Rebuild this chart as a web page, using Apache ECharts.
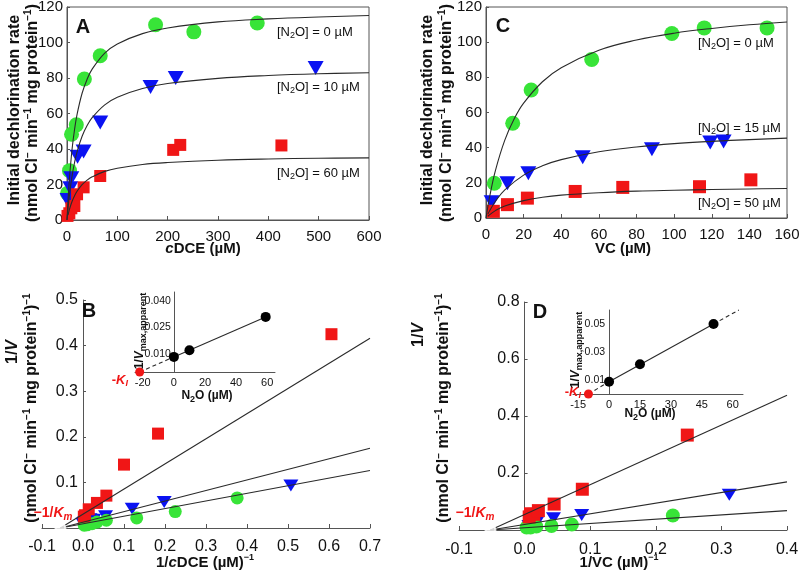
<!DOCTYPE html>
<html>
<head>
<meta charset="utf-8">
<script src="https://cdn.jsdelivr.net/npm/echarts@6/dist/echarts.min.js"></script>
<style>html,body{margin:0;padding:0;background:#fff}#c{width:800px;height:574px}</style>
</head>
<body>
<div id="c"></div>
<script>
// ---------- Panel A: cDCE (µM) vs rate ----------
const A_green = [[1,15],[5,27.8],[9,48.3],[18.5,53.6],[34.5,79.4],[66,92.5],[176,110],[252,106],[378,111]];
const A_blue  = [[1,11.3],[6.6,17.9],[8.6,23.5],[21,35.7],[33,38.6],[66,55],[166,75],[216,80],[494,85.6]];
const A_red   = [[1,2.3],[4.6,3.8],[8.6,6.6],[14.6,7.9],[20,14.5],[33,18.4],[66,24.8],[211,39.5],[225,42.3],[426,42]];
const A_fit0  = [[0,0],[2,10.8],[5,23.8],[10,39.7],[15,51],[20,59.5],[30,71.4],[40,79.3],[50,85],[75,94],[100,99.2],[150,105],[200,108.2],[300,111.6],[400,113.3],[500,114.4],[600,115.2]];
const A_fit10 = [[0,0],[2,6.4],[5,14.4],[10,24.7],[15,32.4],[20,38.4],[30,47.2],[40,53.2],[50,57.7],[75,64.9],[100,69.2],[150,74.1],[200,76.9],[300,79.8],[400,81.4],[500,82.4],[600,83]];
const A_fit60 = [[2,2.7],[5,6.1],[10,10.4],[15,13.7],[20,16.2],[30,19.9],[40,22.5],[50,24.3],[75,27.4],[100,29.2],[150,31.3],[200,32.4],[300,33.7],[400,34.4],[500,34.8],[600,35]];
const A_labels = ['[N{sub|2}O] = 0 µM','[N{sub|2}O] = 10 µM','[N{sub|2}O] = 60 µM'];

// ---------- Panel C: VC (µM) vs rate ----------
const C_green = [[4.4,19.8],[14.2,53.9],[24,72.8],[56.2,90.2],[98.8,104.9],[116,108.1],[149.4,108.1]];
const C_blue  = [[3,8.9],[11.4,19.8],[22.5,25.5],[51.4,34.6],[88.2,39.1],[119.2,42.9],[126.3,43.5]];
const C_red   = [[3.9,3.8],[11.4,7.6],[22,11.3],[47.4,15.1],[72.7,17.4],[113.5,17.8],[140.8,21.7]];
const C_fit0  = [[0,0],[2,12.4],[5,27],[10,44.3],[15,56.4],[20,65.3],[30,77.5],[40,85.5],[60,95.4],[80,101.2],[100,105.1],[120,107.8],[140,109.9],[160,111.5]];
const C_fit15 = [[1,2.2],[2,4.3],[5,9.5],[10,16],[20,24.4],[30,29.7],[40,33.2],[60,37.7],[80,40.4],[100,42.3],[120,43.6],[140,44.6],[160,45.4]];
const C_fit50 = [[1,1],[2,1.9],[5,4.2],[10,6.8],[20,9.9],[30,11.8],[40,13],[60,14.4],[80,15.3],[100,15.8],[120,16.2],[140,16.5],[160,16.8]];
const C_labels = ['[N{sub|2}O] = 0 µM','[N{sub|2}O] = 15 µM','[N{sub|2}O] = 50 µM'];

// ---------- Panel B: 1/cDCE vs 1/V ----------
const B_red   = [[0.002,0.025],[0.005,0.028],[0.014,0.041],[0.034,0.055],[0.057,0.071],[0.1,0.139],[0.183,0.207],[0.606,0.425]];
const B_blue  = [[0.0,0.0095],[0.004,0.012],[0.017,0.019],[0.026,0.018],[0.055,0.026],[0.12,0.042],[0.198,0.057],[0.507,0.093]];
const B_green = [[0.003,0.006],[0.01,0.007],[0.022,0.0095],[0.034,0.013],[0.057,0.017],[0.131,0.022],[0.225,0.036],[0.376,0.066]];
const B_line0  = [[-0.055,0],[0.7,0.126]];
const B_line10 = [[-0.055,0],[0.7,0.175]];
const B_line60 = [[-0.055,0],[0.7,0.416]];
const B_km = [[-0.055,0]];
// inset B
const Bi_pts = [[0,0.0085],[10,0.0122],[59,0.031]];
const Bi_ki  = [[-22,0]];
const Bi_dash = [[-22,0],[0,0.0085]];
const Bi_solid = [[0,0.0085],[59,0.031]];

// ---------- Panel D: 1/VC vs 1/V ----------
const D_red   = [[0.007,0.046],[0.009,0.057],[0.014,0.055],[0.021,0.068],[0.045,0.091],[0.088,0.143],[0.248,0.333]];
const D_blue  = [[0.0066,0.014],[0.01,0.021],[0.019,0.029],[0.044,0.041],[0.087,0.053],[0.312,0.124]];
const D_green = [[0.003,0.009],[0.009,0.009],[0.018,0.012],[0.041,0.014],[0.072,0.019],[0.226,0.051]];
const D_line0  = [[-0.052,0],[0.4,0.068]];
const D_line15 = [[-0.052,0],[0.4,0.169]];
const D_line50 = [[-0.052,0],[0.4,0.473]];
const D_km = [[-0.052,0]];
// inset D
const Di_pts = [[0,0.0088],[15,0.0212],[50.7,0.05]];
const Di_ki  = [[-10,0]];
const Di_dash1 = [[-10,0],[0,0.0088]];
const Di_solid = [[0,0.0088],[50.7,0.05]];
const Di_dash2 = [[50.7,0.05],[63,0.06]];

const FONT = '"Liberation Sans", Arial, Helvetica, sans-serif';
const GREEN = '#38e438', BLUE = '#0a12f2', RED = '#f01616', AX = '#555', TXT = '#111', LINE = '#2a2a2a';

const chart = echarts.init(document.getElementById('c'), null, {renderer:'canvas'});

// grid geometry (pixels)
const G = [
  {left: 67, top: 7, width: 302, height: 213},
  {left: 486, top: 7, width: 301, height: 211},
  {left: 42, top: 300, width: 328, height: 228},
  {left: 459, top: 302, width: 328, height: 228},
  {left: 135, top: 292, width: 140, height: 80},
  {left: 573, top: 310, width: 170, height: 84}
];
const XR = [[0,600],[0,160],[-0.1,0.7],[-0.1,0.4],[-25,65],[-17.5,65]];
// shift y axis to x = 0 (labels follow)
function zeroOffset(g) { const r = XR[g]; return -(0 - r[0]) / (r[1] - r[0]) * G[g].width; }

function xAx(g, interval, fs, margin, fmt, extra) {
  return Object.assign({
    gridIndex: g, type: 'value', min: XR[g][0], max: XR[g][1], interval,
    axisLine: {show: true, onZero: false, lineStyle: {color: AX, width: 1}},
    axisTick: {show: true, inside: true, length: 4, lineStyle: {color: AX}},
    axisLabel: {fontSize: fs, color: TXT, fontFamily: FONT, margin, formatter: fmt, showMinLabel: true, showMaxLabel: true},
    splitLine: {show: false}
  }, extra || {});
}
function yAx(g, min, max, interval, fs, margin, fmt, extra) {
  return Object.assign({
    gridIndex: g, type: 'value', min, max, interval, offset: zeroOffset(g),
    axisLine: {show: true, onZero: false, lineStyle: {color: AX, width: 1}},
    axisTick: {show: true, inside: true, length: 3, lineStyle: {color: AX}},
    axisLabel: {fontSize: fs, color: TXT, fontFamily: FONT, margin, formatter: fmt, showMinLabel: true, showMaxLabel: true},
    splitLine: {show: false}
  }, extra || {});
}
function sc(g, data, symbol, size, color, rot, z) {
  return {type: 'scatter', xAxisIndex: g, yAxisIndex: g, data, symbol, symbolSize: size,
    symbolRotate: rot || 0, itemStyle: {color, opacity: 1}, silent: true, z: z || 3, clip: false};
}
function ln(g, data, dashed, smooth) {
  return {type: 'line', xAxisIndex: g, yAxisIndex: g, data, symbol: 'none', smooth: smooth ? 0.4 : false,
    lineStyle: {color: LINE, width: 1.1, type: dashed ? [4,3] : 'solid'}, silent: true, z: 4, clip: false};
}
function txt(x, y, text, opt) {
  opt = opt || {};
  return {type: 'text', x, y, rotation: opt.rot || 0, silent: true, z: 100,
    style: {text, fill: opt.color || TXT, fontSize: opt.fs || 13, fontWeight: opt.fw || 'normal',
      fontFamily: FONT, fontStyle: opt.style || 'normal', align: opt.align || 'center', verticalAlign: 'middle',
      rich: opt.rich || {}}};
}
function supRich(fs, fw) {
  return {
    s: {fontSize: Math.round(fs*0.62), fontWeight: fw, fontFamily: FONT, verticalAlign: 'top', lineHeight: fs+4, fill: TXT},
    i: {fontSize: fs, fontWeight: fw, fontFamily: FONT, fontStyle: 'italic', lineHeight: fs+4, fill: TXT},
    sub: {fontSize: Math.round(fs*0.72), fontWeight: fw, fontFamily: FONT, verticalAlign: 'bottom', lineHeight: fs+4, fill: TXT}
  };
}
function redRich(fs) {
  return {
    k: {fontSize: fs, fontWeight: 'bold', fontStyle: 'italic', fill: RED, fontFamily: FONT, lineHeight: fs+4},
    m: {fontSize: Math.round(fs*0.7), fontWeight: 'bold', fontStyle: 'italic', fill: RED, fontFamily: FONT, verticalAlign: 'bottom', lineHeight: fs+4}
  };
}
const r16 = supRich(16, 'bold'), r15 = supRich(15, 'bold'), r12 = supRich(12, 'bold');
const annRich = {sub: {fontSize: 9, fontFamily: FONT, verticalAlign: 'bottom', lineHeight: 17, fill: TXT}};

const f1 = v => v.toFixed(1);
const f1nz = v => Math.abs(v) < 1e-9 ? '' : v.toFixed(1);

const option = {
  animation: false,
  backgroundColor: '#fff',
  textStyle: {fontFamily: FONT},
  grid: G.map((g, i) => Object.assign({}, g, {outerBoundsMode: 'none'},
    i < 2 ? {show: true, borderColor: AX, borderWidth: 1} : {show: false})),
  xAxis: [
    xAx(0, 100, 15, 9),
    xAx(1, 20, 15, 9),
    xAx(2, 0.1, 16, 11, f1),
    xAx(3, 0.1, 16, 12, f1),
    xAx(4, 5, 11, 5, v => { const r = Math.round(v); return r % 20 === 0 ? String(r) : ''; }, {axisTick: {show: false}}),
    xAx(5, 2.5, 11, 5, v => { const r = Math.round(v*10)/10; return (Math.abs(r % 15) < 1e-6) ? String(r) : ''; }, {axisTick: {show: false}})
  ],
  yAxis: [
    yAx(0, 0, 120, 20, 15, 4),
    yAx(1, 0, 120, 20, 15, 4),
    yAx(2, 0, 0.5, 0.1, 16, 5, f1nz),
    yAx(3, 0, 0.8, 0.2, 16, 5, f1nz),
    yAx(4, 0, 0.045, 0.005, 10.5, 3, v => { const r = Math.round(v*1000); return [10,25,40].includes(r) ? v.toFixed(3) : ''; }, {axisTick: {show: false}}),
    yAx(5, 0, 0.06, 0.01, 10.5, 4, v => { const r = Math.round(v*100); return [1,3,5].includes(r) ? v.toFixed(2) : ''; }, {axisTick: {show: false}})
  ],
  series: [
    // A
    sc(0, A_green, 'circle', 15, GREEN), sc(0, A_blue, 'triangle', [16,14], BLUE, 180), sc(0, A_red, 'rect', 12, RED),
    ln(0, A_fit0, false, true), ln(0, A_fit10, false, true), ln(0, A_fit60, false, true),
    // C
    sc(1, C_green, 'circle', 15, GREEN), sc(1, C_blue, 'triangle', [16,14], BLUE, 180), sc(1, C_red, 'rect', 13, RED),
    ln(1, C_fit0, false, true), ln(1, C_fit15, false, true), ln(1, C_fit50, false, true),
    // B
    sc(2, B_blue, 'triangle', [15,12], BLUE, 180), sc(2, B_green, 'circle', 13, GREEN), sc(2, B_red, 'rect', 12, RED),
    ln(2, B_line0), ln(2, B_line10), ln(2, B_line60),
    {type: 'scatter', xAxisIndex: 2, yAxisIndex: 2, data: B_km, symbol: 'emptyCircle', symbolSize: 10,
      itemStyle: {color: '#fff', borderColor: RED, borderWidth: 2}, silent: true, z: 6, clip: false},
    // D
    sc(3, D_blue, 'triangle', [15,12], BLUE, 180), sc(3, D_green, 'circle', 14, GREEN), sc(3, D_red, 'rect', 13, RED),
    ln(3, D_line0), ln(3, D_line15), ln(3, D_line50),
    {type: 'scatter', xAxisIndex: 3, yAxisIndex: 3, data: D_km, symbol: 'emptyCircle', symbolSize: 10,
      itemStyle: {color: '#fff', borderColor: RED, borderWidth: 2}, silent: true, z: 6, clip: false},
    // inset B
    ln(4, Bi_dash, true), ln(4, Bi_solid),
    sc(4, Bi_pts, 'circle', 10, '#000', 0, 5), sc(4, Bi_ki, 'circle', 9, RED, 0, 5),
    // inset D
    ln(5, Di_dash1, true), ln(5, Di_solid), ln(5, Di_dash2, true),
    sc(5, Di_pts, 'circle', 10, '#000', 0, 5), sc(5, Di_ki, 'circle', 9, RED, 0, 5)
  ],
  graphic: [
    txt(83, 27, 'A', {fs: 20, fw: 'bold'}),
    txt(503, 26, 'C', {fs: 20, fw: 'bold'}),
    txt(89, 311, 'B', {fs: 20, fw: 'bold'}),
    txt(540, 312, 'D', {fs: 20, fw: 'bold'}),
    txt(277, 32, A_labels[0], {fs: 13, align: 'left', rich: annRich}),
    txt(277, 87, A_labels[1], {fs: 13, align: 'left', rich: annRich}),
    txt(277, 173, A_labels[2], {fs: 13, align: 'left', rich: annRich}),
    txt(698, 43, C_labels[0], {fs: 13, align: 'left', rich: annRich}),
    txt(698, 128, C_labels[1], {fs: 13, align: 'left', rich: annRich}),
    txt(698, 203, C_labels[2], {fs: 13, align: 'left', rich: annRich}),
    txt(15, 110, 'Initial dechlorination rate', {fs: 16, fw: 'bold', rot: Math.PI/2}),
    txt(33, 113, '(nmol Cl{s|−} min{s|−1} mg protein{s|−1})', {fs: 16, fw: 'bold', rot: Math.PI/2, rich: r16}),
    txt(428, 110, 'Initial dechlorination rate', {fs: 16, fw: 'bold', rot: Math.PI/2}),
    txt(447, 113, '(nmol Cl{s|−} min{s|−1} mg protein{s|−1})', {fs: 16, fw: 'bold', rot: Math.PI/2, rich: r16}),
    txt(203, 249, '{i|c}DCE (µM)', {fs: 15, fw: 'bold', rich: r15}),
    txt(623, 249, 'VC (µM)', {fs: 15, fw: 'bold'}),
    txt(13, 352, '1/{i|V}', {fs: 16, fw: 'bold', rot: Math.PI/2, rich: r16}),
    txt(32, 408, '(nmol Cl{s|−} min{s|−1} mg protein{s|−1}){s|−1}', {fs: 16, fw: 'bold', rot: Math.PI/2, rich: r16}),
    txt(419, 335, '1/{i|V}', {fs: 16, fw: 'bold', rot: Math.PI/2, rich: r16}),
    txt(444, 408, '(nmol Cl{s|−} min{s|−1} mg protein{s|−1}){s|−1}', {fs: 16, fw: 'bold', rot: Math.PI/2, rich: r16}),
    txt(205, 563, '1/{i|c}DCE (µM){s|−1}', {fs: 15, fw: 'bold', rich: r15}),
    txt(619, 563, '1/VC (µM){s|−1}', {fs: 15, fw: 'bold', rich: r15}),
    txt(53, 513, '−1/{k|K}{m|m}', {fs: 14, fw: 'bold', color: RED, rich: redRich(14)}),
    txt(475, 513, '−1/{k|K}{m|m}', {fs: 14, fw: 'bold', color: RED, rich: redRich(14)}),
    txt(128, 380, '-{k|K}{m|I}', {fs: 13, fw: 'bold', color: RED, align: 'right', rich: redRich(13)}),
    txt(581, 392, '-{k|K}{m|I}', {fs: 13, fw: 'bold', color: RED, align: 'right', rich: redRich(13)}),
    txt(140, 331, '1/{i|V}{sub|max,apparent}', {fs: 12, fw: 'bold', rot: Math.PI/2, rich: r12}),
    txt(207, 396, 'N{sub|2}O (µM)', {fs: 12, fw: 'bold', rich: r12}),
    txt(576, 350, '1/{i|V}{sub|max,apparent}', {fs: 12, fw: 'bold', rot: Math.PI/2, rich: r12}),
    txt(650, 414, 'N{sub|2}O (µM)', {fs: 12, fw: 'bold', rich: r12})
  ]
};
chart.setOption(option);
</script>
</body>
</html>
